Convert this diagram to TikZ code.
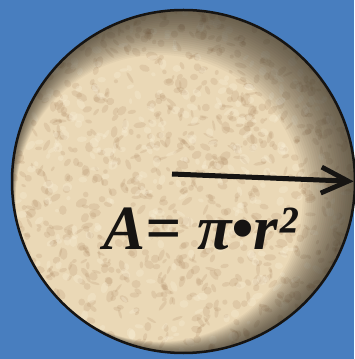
\documentclass[tikz,border=0pt]{standalone}
\usepackage{fontspec}
\newfontfamily\eqfont{Liberation Serif}
\usetikzlibrary{arrows.meta,calc}
\definecolor{bg}{RGB}{72,126,191}
\definecolor{parch}{RGB}{234,216,182}
\definecolor{blotch}{RGB}{160,122,84}
\definecolor{blotchlight}{RGB}{250,240,218}
\definecolor{shadowc}{RGB}{50,44,34}
\definecolor{ink}{RGB}{22,20,18}
\begin{document}
\begin{tikzpicture}[x=1pt,y=1pt,
  rim/.style={circle, draw=ink, line width=2.5pt, minimum size=343pt, inner sep=0pt},
  radius arrow/.style={draw=ink, line width=5pt, -{Straight Barb[length=27pt,width=26pt,line width=4.8pt]}, shorten >=2.5pt},
  formula/.style={anchor=base, text=ink, font=\eqfont\bfseries\itshape\fontsize{63}{63}\selectfont}]
\fill[bg] (0,0) rectangle (354,359);
\useasboundingbox (0,0) rectangle (354,359);
\coordinate (c) at (183.5,177.5);
\begin{scope}
  \clip (c) circle (171.5);
  \fill[parch] (c) circle (173);
  \pgfmathsetseed{42}
  \foreach \i in {1,...,1100}{
    \pgfmathsetmacro{\px}{183.5+176*rand}
    \pgfmathsetmacro{\py}{177.5+176*rand}
    \pgfmathsetmacro{\ra}{2+4.5*rnd}
    \pgfmathsetmacro{\rb}{1.2+3*rnd}
    \pgfmathsetmacro{\ang}{180*rnd}
    \fill[blotch, opacity=0.16, rotate around={\ang:(\px,\py)}] (\px,\py) ellipse ({\ra} and {\rb});
  }
  \foreach \i in {1,...,450}{
    \pgfmathsetmacro{\px}{183.5+176*rand}
    \pgfmathsetmacro{\py}{177.5+176*rand}
    \pgfmathsetmacro{\ra}{2+4*rnd}
    \pgfmathsetmacro{\rb}{1.5+3*rnd}
    \pgfmathsetmacro{\ang}{180*rnd}
    \fill[blotchlight, opacity=0.3, rotate around={\ang:(\px,\py)}] (\px,\py) ellipse ({\ra} and {\rb});
  }
  \foreach \k in {0,...,23}{
    \pgfmathsetmacro{\s}{2+1.2*\k}
    \pgfmathsetmacro{\R}{173-\s}
    \fill[shadowc, opacity=0.045, even odd rule] (c) circle (173) ($(c)+(-0.82*\s,-0.57*\s)$) circle (\R);
  }
\end{scope}
\node[rim] (disc) at (c) {};
\coordinate (start) at (172,185);
\draw[radius arrow] (start) -- (disc.east);
\node[formula] (eq) at (200.5,109) {A= π•r²};
\end{tikzpicture}
\end{document}
